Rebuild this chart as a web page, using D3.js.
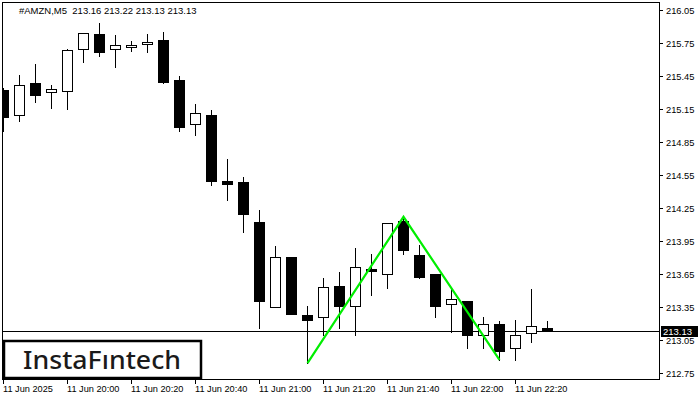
<!DOCTYPE html>
<html><head><meta charset="utf-8">
<script src="https://cdn.jsdelivr.net/npm/d3@7"></script>
<style>body{margin:0;background:#fff}svg{display:block}</style>
</head><body>
<script>
const title = "#AMZN,M5  213.16 213.22 213.13 213.13";
const opens  = [215.32,215.095,215.386,215.30,215.31,215.70,215.83,215.70,215.71,215.74,215.78,215.41,215.01,215.10,214.50,214.49,214.12,213.35,213.80,213.28,213.26,213.54,213.36,213.70,213.65,214.13,213.82,213.65,213.38,213.40,213.10,213.20,212.98,213.11,213.16];
const highs  = [215.34,215.46,215.56,215.37,215.70,215.84,215.93,215.82,215.77,215.83,215.85,215.45,215.20,215.14,214.70,214.53,214.23,213.90,213.80,213.36,213.61,213.67,213.89,213.83,214.11,214.17,213.91,213.65,213.51,213.40,213.26,213.22,213.23,213.51,213.22];
const lows   = [214.95,215.04,215.21,215.16,215.15,215.58,215.63,215.53,215.68,215.67,215.39,214.95,214.91,214.46,214.32,214.03,213.16,213.35,213.29,212.84,213.10,213.16,213.10,213.46,213.52,213.83,213.61,213.26,213.12,212.98,212.98,212.87,212.87,213.03,213.13];
const closes = [215.08,215.37,215.277,215.33,215.69,215.84,215.67,215.73,215.73,215.76,215.40,214.99,215.11,214.50,214.47,214.20,213.40,213.80,213.29,213.23,213.53,213.36,213.71,213.68,214.11,213.87,213.62,213.36,213.42,213.10,213.20,212.95,213.10,213.18,213.13];
const yTicks = [216.05,215.75,215.45,215.15,214.85,214.55,214.25,213.95,213.65,213.35,213.05,212.75];
const xTickIdx = [0,4,8,12,16,20,24,28,32];
const xTickLabels = ["11 Jun 2025","11 Jun 20:00","11 Jun 20:20","11 Jun 20:40","11 Jun 21:00","11 Jun 21:20","11 Jun 21:40","11 Jun 22:00","11 Jun 22:20"];
const patternIdx = [19,25,31];
const patternPrice = [212.84,214.17,212.87];
const lastPrice = 213.13;

const W=700,H=400;
const L=3,R=660,T=3,B=380;
const svg=d3.select("body").append("svg").attr("width",W).attr("height",H);
const x=d3.scaleLinear().domain([0,1]).range([3,19]);
const y=d3.scaleLinear().domain([212.75,216.05]).range([373,10]);
const font="'Liberation Sans', Arial, sans-serif";

svg.append("defs").append("clipPath").attr("id","clip").append("rect")
  .attr("x",L).attr("y",T).attr("width",R-L).attr("height",B-T);

const g=svg.append("g").attr("clip-path","url(#clip)");

// current price line
g.append("line").attr("x1",L).attr("x2",R)
  .attr("y1",Math.round(y(lastPrice))+0.5).attr("y2",Math.round(y(lastPrice))+0.5)
  .attr("stroke","#000").attr("stroke-width",1);

const idx=d3.range(opens.length);
// wicks
g.selectAll("line.wick").data(idx).join("line").attr("class","wick")
  .attr("x1",i=>Math.round(x(i))+0.5).attr("x2",i=>Math.round(x(i))+0.5)
  .attr("y1",i=>Math.round(y(highs[i]))).attr("y2",i=>Math.round(y(lows[i]))+1)
  .attr("stroke","#000").attr("stroke-width",1);
// bodies
g.selectAll("rect.body").data(idx).join("rect").attr("class","body")
  .attr("x",i=>Math.round(x(i))-4.5)
  .attr("width",10)
  .attr("y",i=>Math.round(y(Math.max(opens[i],closes[i])))+0.5)
  .attr("height",i=>Math.max(1,Math.round(y(Math.min(opens[i],closes[i])))-Math.round(y(Math.max(opens[i],closes[i])))))
  .attr("fill",i=>closes[i]>=opens[i]?"#fff":"#000")
  .attr("stroke","#000").attr("stroke-width",1);

// pattern line
g.append("path")
  .attr("d",d3.line().x(d=>x(d[0])+0.5).y(d=>y(d[1]))(patternIdx.map((d,k)=>[d,patternPrice[k]])))
  .attr("fill","none").attr("stroke","#00ee00").attr("stroke-width",2.2);

// frame
svg.append("rect").attr("x",L-0.5).attr("y",T-0.5).attr("width",R-L).attr("height",B-T)
  .attr("fill","none").attr("stroke","#000").attr("stroke-width",1);

// y axis
yTicks.forEach(v=>{
  const yy=Math.round(y(v));
  svg.append("line").attr("x1",R-0.5).attr("x2",R+3).attr("y1",yy+0.5).attr("y2",yy+0.5).attr("stroke","#000");
  svg.append("text").attr("x",R+6).attr("y",yy+3.5).attr("font-family",font).attr("font-size",9.3)
    .attr("fill","#000").text(d3.format(".2f")(v));
});
// last price label
const ly=Math.round(y(lastPrice));
svg.append("rect").attr("x",R+1).attr("y",ly-5).attr("width",37).attr("height",11).attr("fill","#000");
svg.append("text").attr("x",R+3).attr("y",ly+4).attr("font-family",font).attr("font-size",9.5)
  .attr("fill","#fff").text(d3.format(".2f")(lastPrice));

// x axis
xTickIdx.forEach((d,k)=>{
  const xx=Math.round(x(d));
  svg.append("line").attr("x1",xx+0.5).attr("x2",xx+0.5).attr("y1",B).attr("y2",B+4).attr("stroke","#000");
  svg.append("text").attr("x",xx).attr("y",392).attr("font-family",font).attr("font-size",9.2)
    .attr("fill","#000").text(xTickLabels[k]);
});

// title
svg.append("text").attr("x",19).attr("y",14).attr("font-family",font).attr("font-size",9.5)
  .attr("fill","#000").style("white-space","pre").text(title);

// logo
svg.append("rect").attr("x",4).attr("y",341).attr("width",197).attr("height",37)
  .attr("fill","#fff").attr("stroke","#000").attr("stroke-width",2.5);
svg.append("text").attr("x",102).attr("y",369).attr("text-anchor","middle")
  .attr("font-family","'Noto Sans', 'Open Sans', sans-serif").attr("font-weight",500)
  .attr("font-size",25.5).attr("fill","#1a1a1a").attr("textLength",158).attr("lengthAdjust","spacingAndGlyphs")
  .text("InstaF\u0131ntech");
</script>
</body></html>
